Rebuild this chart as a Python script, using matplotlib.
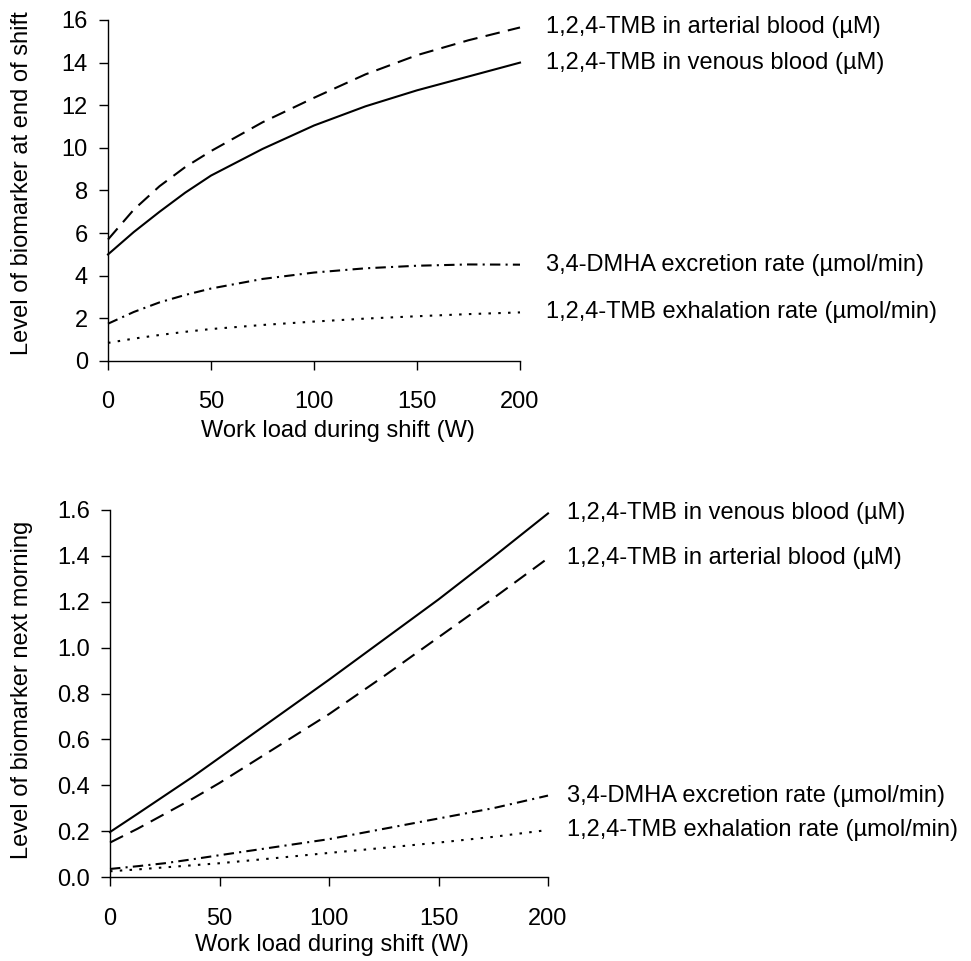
""" Biomarker levels vs. work load during shift (end of shift / next morning).
"""
import matplotlib
matplotlib.use('Agg')
import matplotlib.pyplot as plt

plt.rcParams['font.family'] = ['Liberation Sans', 'DejaVu Sans']
FONT_SIZE = 17

### Data

work_load = [0, 12.5, 25, 37.5, 50, 75, 100, 125, 150, 175, 200]

# End of shift
shift_arterial = [5.7, 7.1, 8.2, 9.1, 9.85, 11.2, 12.35, 13.45, 14.35, 15.05, 15.65]
shift_venous = [5.0, 6.05, 7.0, 7.9, 8.7, 9.95, 11.05, 11.95, 12.7, 13.35, 14.0]
shift_dmha = [1.75, 2.3, 2.75, 3.1, 3.4, 3.85, 4.15, 4.35, 4.47, 4.53, 4.52]
shift_exhalation = [0.85, 1.05, 1.22, 1.37, 1.5, 1.69, 1.85, 1.99, 2.1, 2.2, 2.28]

# Next morning
morning_venous = [0.196, 0.275, 0.355, 0.435, 0.52, 0.69, 0.86, 1.035, 1.21, 1.395, 1.585]
morning_arterial = [0.15, 0.21, 0.275, 0.34, 0.41, 0.56, 0.71, 0.875, 1.045, 1.215, 1.39]
morning_dmha = [0.035, 0.047, 0.06, 0.077, 0.095, 0.13, 0.165, 0.21, 0.255, 0.30, 0.355]
morning_exhalation = [0.025, 0.033, 0.042, 0.051, 0.06, 0.082, 0.105, 0.127, 0.15, 0.175, 0.205]

label_arterial = '1,2,4-TMB in arterial blood (µM)'
label_venous = '1,2,4-TMB in venous blood (µM)'
label_dmha = '3,4-DMHA excretion rate (µmol/min)'
label_exhalation = '1,2,4-TMB exhalation rate (µmol/min)'

x_ticks = [0, 50, 100, 150, 200]
top_y_ticks = [0, 2, 4, 6, 8, 10, 12, 14, 16]
bottom_y_ticks = [0.0, 0.2, 0.4, 0.6, 0.8, 1.0, 1.2, 1.4, 1.6]

### Line styles
STYLE_ARTERIAL = (0, (7, 4))
STYLE_VENOUS = '-'
STYLE_DMHA = (0, (5, 2.5, 1, 2.5))
STYLE_EXHALATION = (0, (1.2, 3.5))
LW = 1.5


def draw_panel(ax, series, ylim, yticks, ytick_labels, ylabel, text_offset,
               xlabel_pos, ylabel_pos, xpad):
    for values, style, label in series:
        ax.plot(work_load, values, color='black', linestyle=style, lw=LW,
                clip_on=False, dash_capstyle='butt')
        ax.annotate(label, xy=(work_load[-1], values[-1]),
                    xytext=(text_offset, 0), textcoords='offset points',
                    va='center', ha='left', fontsize=FONT_SIZE)

    ax.set_xlim(0, 200)
    ax.set_ylim(*ylim)
    ax.set_xticks(x_ticks)
    ax.set_yticks(yticks)
    ax.set_yticklabels(ytick_labels)
    ax.spines['top'].set_visible(False)
    ax.spines['right'].set_visible(False)
    for side in ['left', 'bottom']:
        ax.spines[side].set_linewidth(1.0)
    ax.tick_params(direction='out', length=6.5, width=1.0, labelsize=FONT_SIZE)
    ax.tick_params(axis='x', pad=xpad)
    ax.tick_params(axis='y', pad=8)

    ax.set_xlabel('Work load during shift (W)', fontsize=FONT_SIZE, va='center')
    ax.xaxis.set_label_coords(*xlabel_pos)
    ax.set_ylabel(ylabel, fontsize=FONT_SIZE, va='center')
    ax.yaxis.set_label_coords(*ylabel_pos)


fig = plt.figure(figsize=(9.71, 9.61), dpi=100)
W, H = 971, 961

### Top panel: end of shift
ax_top = fig.add_axes([108 / W, 1 - 361 / H, 412 / W, 341 / H])
draw_panel(
    ax_top,
    [(shift_arterial, STYLE_ARTERIAL, label_arterial),
     (shift_venous, STYLE_VENOUS, label_venous),
     (shift_dmha, STYLE_DMHA, label_dmha),
     (shift_exhalation, STYLE_EXHALATION, label_exhalation)],
    (0, 16), top_y_ticks, [str(t) for t in top_y_ticks],
    'Level of biomarker at end of shift', 19,
    (0.558, -0.205), (-0.209, 0.522), 15)

### Bottom panel: next morning
ax_bottom = fig.add_axes([110 / W, 1 - 877 / H, 438 / W, 367 / H])
draw_panel(
    ax_bottom,
    [(morning_venous, STYLE_VENOUS, label_venous),
     (morning_arterial, STYLE_ARTERIAL, label_arterial),
     (morning_dmha, STYLE_DMHA, label_dmha),
     (morning_exhalation, STYLE_EXHALATION, label_exhalation)],
    (0, 1.6), bottom_y_ticks, ['%.1f' % t for t in bottom_y_ticks],
    'Level of biomarker next morning', 14,
    (0.507, -0.185), (-0.201, 0.51), 16)

fig.savefig('out.png', dpi=100)
